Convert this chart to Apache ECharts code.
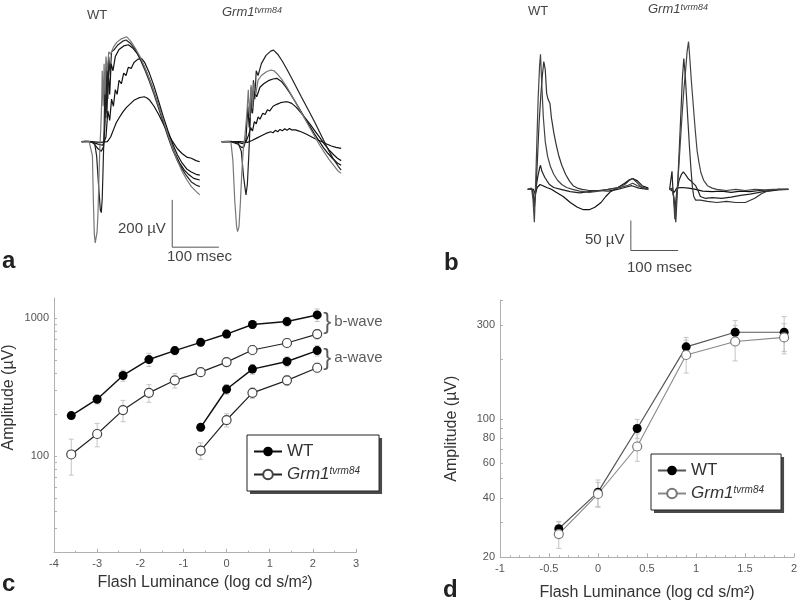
<!DOCTYPE html>
<html><head><meta charset="utf-8">
<script src="https://cdn.jsdelivr.net/npm/echarts@6/dist/echarts.min.js"></script>
<style>html,body{margin:0;padding:0;background:#fff}#c{width:800px;height:608px}</style>
</head><body><div id="c"></div>
<script>
// ---------- Panel a: scotopic ERG traces (t in msec, amplitude in µV) ----------
const aWT1 = [[0,0],[8,3],[16,0],[20,-5],[23,-60],[25,-250],[27,-390],[29,-428],[31,-420],[33,-380],[35,-300],[37,-150],[39,-20],[41,60],[43,180],[44,300],[46,150],[48,330],[50,200],[52,360],[55,300],[58,380],[62,370],[68,400],[75,420],[85,435],[96,444],[105,425],[115,395],[125,360],[135,315],[145,265],[155,210],[165,150],[175,90],[185,30],[195,-30],[205,-80],[215,-125],[225,-160],[235,-190],[245,-210],[253,-225]];
const aWT2 = [[0,0],[10,2],[20,0],[28,-10],[32,-60],[36,-180],[40,-290],[42,-300],[44,-240],[46,-100],[48,50],[50,280],[52,100],[54,330],[56,180],[58,360],[61,280],[64,380],[70,390],[78,410],[88,425],[95,430],[105,415],[115,390],[125,350],[135,305],[145,255],[155,200],[165,140],[175,80],[185,20],[195,-35],[205,-80],[215,-115],[225,-145],[235,-170],[245,-183],[253,-190]];
const aWT3 = [[0,0],[15,2],[25,-5],[35,-30],[42,-40],[47,-20],[50,80],[52,250],[54,120],[57,300],[60,200],[63,330],[67,300],[72,360],[80,390],[90,405],[100,410],[110,395],[120,370],[130,335],[140,290],[150,240],[160,180],[170,120],[180,60],[190,0],[200,-50],[210,-90],[220,-120],[230,-140],[240,-155],[253,-162]];
const aWT4 = [[0,0],[20,0],[35,-10],[45,-15],[52,20],[56,130],[60,90],[64,180],[68,150],[72,220],[76,200],[80,260],[85,245],[90,290],[95,280],[100,315],[106,310],[112,335],[120,348],[128,352],[135,335],[145,290],[155,235],[165,170],[175,105],[185,45],[195,-10],[205,-55],[215,-90],[225,-115],[235,-128],[245,-138],[253,-141]];
const aWT5 = [[0,0],[20,0],[40,-3],[55,0],[62,20],[68,50],[74,80],[80,100],[84,95],[88,125],[92,118],[96,145],[100,138],[104,160],[108,155],[112,175],[116,170],[122,185],[128,188],[134,190],[140,185],[146,175],[155,150],[165,115],[175,75],[185,35],[195,0],[205,-30],[215,-50],[225,-65],[235,-70],[245,-80],[253,-85]];
const aMut1 = [[300,0],[320,2],[335,-5],[342,-40],[347,-150],[352,-225],[355,-180],[358,-60],[361,80],[363,230],[365,120],[368,260],[371,180],[374,300],[378,280],[385,330],[395,365],[405,383],[411,387],[420,370],[430,340],[440,305],[450,268],[460,230],[470,192],[480,155],[490,118],[500,80],[510,40],[520,0],[530,-40],[540,-75],[550,-105],[556,-120]];
const aMut2 = [[300,0],[315,2],[320,-5],[324,-80],[328,-250],[332,-360],[334,-380],[337,-360],[340,-260],[343,-134],[346,-40],[350,30],[354,120],[357,220],[360,100],[363,240],[366,140],[369,250],[373,200],[378,260],[385,280],[395,295],[405,303],[412,300],[420,285],[430,260],[440,230],[450,195],[460,160],[470,125],[480,90],[490,55],[500,20],[510,-15],[520,-45],[530,-75],[540,-100],[550,-125],[556,-134]];
const aMut3 = [[300,0],[320,0],[335,-10],[343,-25],[348,-20],[352,10],[356,150],[359,60],[362,190],[366,120],[370,210],[375,190],[382,230],[390,245],[400,258],[410,265],[418,268],[428,255],[438,230],[448,200],[458,168],[468,135],[478,100],[488,68],[498,35],[508,5],[518,-25],[528,-50],[538,-72],[548,-90],[556,-100]];
const aMut4 = [[300,0],[330,0],[345,-8],[352,0],[358,30],[362,60],[366,45],[370,85],[374,75],[378,105],[382,95],[388,120],[393,115],[398,135],[403,130],[410,150],[418,158],[426,165],[434,168],[441,169],[450,162],[460,145],[470,122],[480,98],[490,72],[500,45],[510,18],[520,-10],[530,-35],[540,-55],[548,-70],[556,-80]];
const aMut5 = [[300,0],[340,0],[355,-3],[365,5],[375,15],[385,25],[395,35],[405,42],[410,38],[415,48],[420,42],[425,52],[430,46],[435,55],[440,48],[445,56],[450,50],[458,50],[466,45],[475,38],[485,28],[495,18],[505,8],[515,0],[525,-10],[535,-18],[545,-24],[556,-28]];
const aScaleBar = [[194,-246],[194,-446],[294,-446]];

// ---------- Panel b: photopic ERG traces ----------
const bWT1 = [[0,0],[8,2],[11,-15],[14,-55],[16,-10],[19,70],[22,150],[25,205],[27,225],[30,170],[33,120],[37,80],[42,55],[48,38],[55,25],[63,15],[72,8],[82,3],[95,0],[110,-3],[130,-5],[150,-3],[170,0],[190,2],[210,6],[222,10],[232,6],[245,2],[255,0]];
const bWT2 = [[0,0],[10,0],[14,-30],[17,-5],[20,40],[24,110],[28,160],[31,190],[34,213],[37,200],[40,160],[43,150],[47,143],[50,120],[55,95],[60,75],[66,55],[72,40],[80,25],[88,14],[96,6],[105,2],[115,0],[130,-2],[150,-2],[170,0],[190,3],[205,8],[215,15],[222,18],[230,12],[240,4],[255,0]];
const bWT3 = [[0,0],[10,0],[14,-25],[17,0],[21,20],[25,35],[27,40],[30,30],[33,28],[36,20],[40,15],[46,8],[55,3],[70,0],[90,-4],[110,-6],[130,-4],[150,-2],[170,-3],[190,0],[205,3],[220,6],[235,2],[255,0]];
const bWT4 = [[0,0],[12,0],[16,-8],[20,3],[26,8],[32,6],[40,3],[50,0],[60,-5],[75,-12],[90,-22],[105,-30],[118,-34],[130,-34],[142,-30],[155,-22],[165,-12],[175,-4],[185,0],[195,5],[205,10],[215,16],[222,18],[232,14],[242,6],[255,2]];
const bMut1 = [[300,0],[305,0],[308,-10],[311,-50],[314,-20],[318,20],[322,70],[326,120],[330,165],[334,200],[337,230],[340,246],[343,215],[346,180],[350,140],[354,100],[358,65],[362,45],[366,28],[372,15],[380,6],[390,2],[400,0],[420,-2],[440,0],[460,-2],[480,0],[500,-1],[520,0],[540,0],[551,0]];
const bMut2 = [[300,0],[306,2],[310,-20],[313,-55],[316,-10],[320,60],[324,130],[327,185],[330,218],[333,190],[336,150],[339,110],[342,70],[345,35],[348,5],[351,-12],[355,-18],[365,-18],[380,-20],[400,-22],[420,-20],[440,-22],[460,-22],[480,-15],[495,-7],[510,-2],[530,0],[551,0]];
const bMut3 = [[300,0],[305,30],[307,0],[311,-35],[315,-5],[320,15],[325,25],[329,29],[334,24],[340,17],[345,14],[350,10],[355,6],[360,-2],[365,-12],[375,-15],[390,-14],[410,-15],[430,-13],[450,-10],[470,-8],[490,-5],[510,-2],[530,0],[551,0]];
const bMut4 = [[300,0],[310,-5],[315,2],[325,3],[340,2],[355,0],[370,-3],[390,-4],[410,-3],[430,-5],[450,-3],[470,-4],[490,-2],[510,-3],[530,-1],[551,0]];
const bScaleBar = [[218,-52],[218,-102],[318,-102]];

// ---------- Panel c: scotopic amplitudes ----------
const cXb = [-3.6,-3.0,-2.4,-1.8,-1.2,-0.6,0,0.6,1.4,2.1];
const cWTb = [197,259,385,502,583,669,768,901,946,1057];
const cMutb = [103,145,216,288,355,407,481,589,662,768];
const cWTbErr = [10,20,35,55,40,40,50,60,70,110];
const cMutbErr = [30,28,38,42,43,25,35,45,50,60];
const cXa = [-0.6,0,0.6,1.4,2.1];
const cWTa = [162,306,428,486,583];
const cMuta = [110,183,288,355,438];
const cWTaErr = [10,25,35,40,50];
const cMutaErr = [15,20,25,30,35];
const cYLabels = [100,1000];
const cYTicks = [20,30,40,50,60,70,80,90,100,200,300,400,500,600,700,800,900,1000];
const cNotes = [{x:2.1,y:936,text:'b-wave'},{x:2.1,y:514,text:'a-wave'}];

// ---------- Panel d: photopic b-wave amplitudes ----------
const dX = [-0.4,0,0.4,0.9,1.4,1.9];
const dWT = [27.9,42.7,89.7,232,275,275];
const dMut = [26.2,41.8,72.7,211,247,259];
const dWTErr = [2.5,6.5,10,27,40,55];
const dMutErr = [4,6,11.5,40,50,45];
const dYLabels = [20,40,60,80,100,300];
const dYTicks = [20,30,40,50,60,70,80,90,100,200,300,400];

const zip = (xs, ys) => xs.map((x,i)=>[x, ys[i]]);
const font = 'Liberation Sans, Arial';

function trace(data, xi, color) {
  return {type:'line', xAxisIndex:xi, yAxisIndex:xi, data, symbol:'none', silent:true, clip:false,
    lineStyle:{color, width:1.2}, z:3};
}
function errBars(xs, ys, errs, ai) {
  return {type:'custom', xAxisIndex:ai, yAxisIndex:ai, silent:true, z:1,
    data: xs.map((x,i)=>[x, ys[i]-errs[i], ys[i]+errs[i]]),
    encode:{x:0, y:[1,2]},
    renderItem(params, api){
      const x = api.value(0), p1 = api.coord([x, api.value(1)]), p2 = api.coord([x, api.value(2)]);
      const w = 2.5, st = {stroke:'#c4c4c4', lineWidth:1};
      return {type:'group', children:[
        {type:'line', shape:{x1:p1[0],y1:p1[1],x2:p2[0],y2:p2[1]}, style:st},
        {type:'line', shape:{x1:p1[0]-w,y1:p1[1],x2:p1[0]+w,y2:p1[1]}, style:st},
        {type:'line', shape:{x1:p2[0]-w,y1:p2[1],x2:p2[0]+w,y2:p2[1]}, style:st}
      ]};
    }};
}
function amp(name, data, ai, lineColor, lw, filled, symColor, size) {
  return {type:'line', name, xAxisIndex:ai, yAxisIndex:ai, data, symbol:'circle',
    symbolSize:size, showSymbol:true, z:5,
    lineStyle:{color:lineColor, width:lw},
    itemStyle:{color: filled ? symColor : '#fff', borderColor:symColor, borderWidth: filled ? 0 : 1.2}};
}

const titleBase = {padding:0, textStyle:{fontFamily:font, fontWeight:'normal', color:'#444'}};
function t(text, left, top, size, extra) {
  return Object.assign({}, titleBase, {text, left, top,
    textStyle:Object.assign({}, titleBase.textStyle, {fontSize:size}, extra||{})});
}
const richGrm = (big, small, color) => ({
  i:{fontStyle:'italic', fontWeight:'normal', fontSize:big, color:color||'#333', fontFamily:font},
  s:{fontStyle:'italic', fontWeight:'normal', fontSize:small, color:color||'#333', verticalAlign:'top', fontFamily:font}
});
function grmTitle(left, top) {
  return Object.assign({}, titleBase, {text:'{i|Grm1}{s|tvrm84}', left, top,
    textStyle:{fontWeight:'normal', rich:richGrm(13,9,'#444')}});
}

const axisGray = '#b0b0b0';
function valX(ai, min, max, interval, minorSplit, nameGap) {
  return {type:'value', gridIndex:ai, min, max, interval,
    axisLine:{show:true, onZero:false, lineStyle:{color:axisGray}},
    axisTick:{show:true, inside:true, length:4, lineStyle:{color:axisGray}},
    minorTick:{show:true, splitNumber:minorSplit, length:2, lineStyle:{color:axisGray}},
    splitLine:{show:false},
    axisLabel:{fontSize:11, color:'#555', margin:6, fontFamily:font, formatter: v => String(v)},
    name:'Flash Luminance (log cd s/m²)', nameLocation:'middle', nameGap,
    nameTextStyle:{fontSize:16, color:'#333', fontFamily:font}};
}
function logY(ai, min, max, labels, ticks, nameGap, pad) {
  return {type:'log', logBase:10, gridIndex:ai, min, max,
    axisLine:{show:true, onZero:false, lineStyle:{color:axisGray}},
    axisTick:{show:true, inside:true, length:3, lineStyle:{color:axisGray}, customValues:ticks},
    splitLine:{show:false}, minorTick:{show:false},
    axisLabel:{fontSize:11, color:'#555', margin:5, fontFamily:font, customValues:labels, formatter: v => String(Math.round(v))},
    name:'Amplitude (µV)', nameLocation:'middle', nameGap,
    nameTextStyle:{fontSize:16, color:'#333', fontFamily:font, padding:pad}};
}
function hidden(ai, min, max) { return {type:'value', gridIndex:ai, min, max, show:false}; }

const legendBase = {orient:'vertical', itemWidth:28, itemHeight:12, itemGap:6,
  backgroundColor:'#fff', borderColor:'#222', borderWidth:1,
  selectedMode:false, z:5,
  formatter: n => n.endsWith('WT') ? 'WT' : '{i|Grm1}{s|tvrm84}',
  textStyle:{fontSize:17, color:'#333', fontFamily:font, rich:richGrm(17,10)}};
const clear = 'rgba(0,0,0,0)';
const legendShadow = Object.assign({}, legendBase, {backgroundColor:'#4a4a4a', borderWidth:0, z:4,
  itemStyle:{opacity:0}, lineStyle:{opacity:0},
  textStyle:{fontSize:17, color:clear, fontFamily:font, rich:richGrm(17,10,clear)}});

const option = {
  animation:false,
  backgroundColor:'#fff',
  title:[
    t('WT', 87, 9, 13),
    grmTitle(222, 6),
    t('WT', 528, 5, 13),
    grmTitle(648, 3),
    t('200 µV', 118, 221, 15),
    t('100 msec', 167, 249, 15),
    t('50 µV', 585, 232, 15),
    t('100 msec', 627, 260, 15),
    t('a', 2, 249, 24, {fontWeight:'bold', color:'#222'}),
    t('b', 444, 251, 24, {fontWeight:'bold', color:'#222'}),
    t('c', 2, 572, 24, {fontWeight:'bold', color:'#222'}),
    t('d', 443, 578, 24, {fontWeight:'bold', color:'#222'})
  ],
  grid:[
    {left:63.03, top:23.45, width:308, height:236.5},
    {left:508.8, top:21.3, width:283.8, height:240},
    {left:51.7, top:298.1, width:304.3, height:254.6},
    {left:500, top:300.1, width:294.3, height:257.2}
  ],
  xAxis:[
    hidden(0,-40,620), hidden(1,-40,560),
    valX(2,-4,3,1,2,22), valX(3,-1,2,0.5,5,27)
  ],
  yAxis:[
    hidden(0,-500,500), hidden(1,-120,280),
    logY(2,20,1400,cYLabels,cYTicks,37,[0,0,0,56]),
    logY(3,20,400,dYLabels,dYTicks,40,0)
  ],
  legend:[
    Object.assign({}, legendShadow, {data:['cWT','cMut'], left:250, top:438, padding:[8,19,8,6]}),
    Object.assign({}, legendShadow, {data:['dWT','dMut'], left:654, top:457, padding:[8,17,8,6]}),
    Object.assign({}, legendBase, {data:['cWT','cMut'], left:247, top:435, padding:[8,19,8,6]}),
    Object.assign({}, legendBase, {data:['dWT','dMut'], left:651, top:454, padding:[8,17,8,6]})
  ],
  series:[
    trace(aWT5,0,'#111'), trace(aWT4,0,'#111'), trace(aWT3,0,'#111'), trace(aWT2,0,'#222'), trace(aWT1,0,'#777'),
    trace(aMut5,0,'#111'), trace(aMut4,0,'#111'), trace(aMut3,0,'#111'), trace(aMut1,0,'#222'), trace(aMut2,0,'#777'),
    {type:'line', xAxisIndex:0, yAxisIndex:0, data:aScaleBar, symbol:'none', silent:true, clip:false, lineStyle:{color:'#555', width:1}},
    trace(bWT4,1,'#111'), trace(bWT3,1,'#222'), trace(bWT2,1,'#333'), trace(bWT1,1,'#444'),
    trace(bMut4,1,'#111'), trace(bMut3,1,'#222'), trace(bMut2,1,'#333'), trace(bMut1,1,'#444'),
    {type:'line', xAxisIndex:1, yAxisIndex:1, data:bScaleBar, symbol:'none', silent:true, clip:false, lineStyle:{color:'#555', width:1}},

    errBars(cXb, cWTb, cWTbErr, 2), errBars(cXb, cMutb, cMutbErr, 2),
    errBars(cXa, cWTa, cWTaErr, 2), errBars(cXa, cMuta, cMutaErr, 2),
    amp('cWT', zip(cXb,cWTb), 2, '#111', 1.5, true, '#000', 9),
    amp('cMut', zip(cXb,cMutb), 2, '#222', 1.2, false, '#444', 9),
    amp('cWT', zip(cXa,cWTa), 2, '#111', 1.5, true, '#000', 9),
    amp('cMut', zip(cXa,cMuta), 2, '#222', 1.2, false, '#444', 9),
    {type:'scatter', xAxisIndex:2, yAxisIndex:2, symbolSize:0, silent:true, z:6,
      data: cNotes.map(n => ({value:[n.x, n.y], name:n.text})),
      label:{show:true, position:'right', distance:6, formatter: p => '}{t|' + p.name + '}',
        fontSize:24, color:'#333', fontFamily:font,
        rich:{t:{fontSize:15, color:'#333', fontFamily:font, padding:[0,0,0,3]}}}},

    errBars(dX, dWT, dWTErr, 3), errBars(dX, dMut, dMutErr, 3),
    amp('dWT', zip(dX,dWT), 3, '#555', 1.2, true, '#000', 9),
    amp('dMut', zip(dX,dMut), 3, '#888', 1.1, false, '#777', 9)
  ]
};
echarts.init(document.getElementById('c'), null, {renderer:'canvas'}).setOption(option);
</script></body></html>
